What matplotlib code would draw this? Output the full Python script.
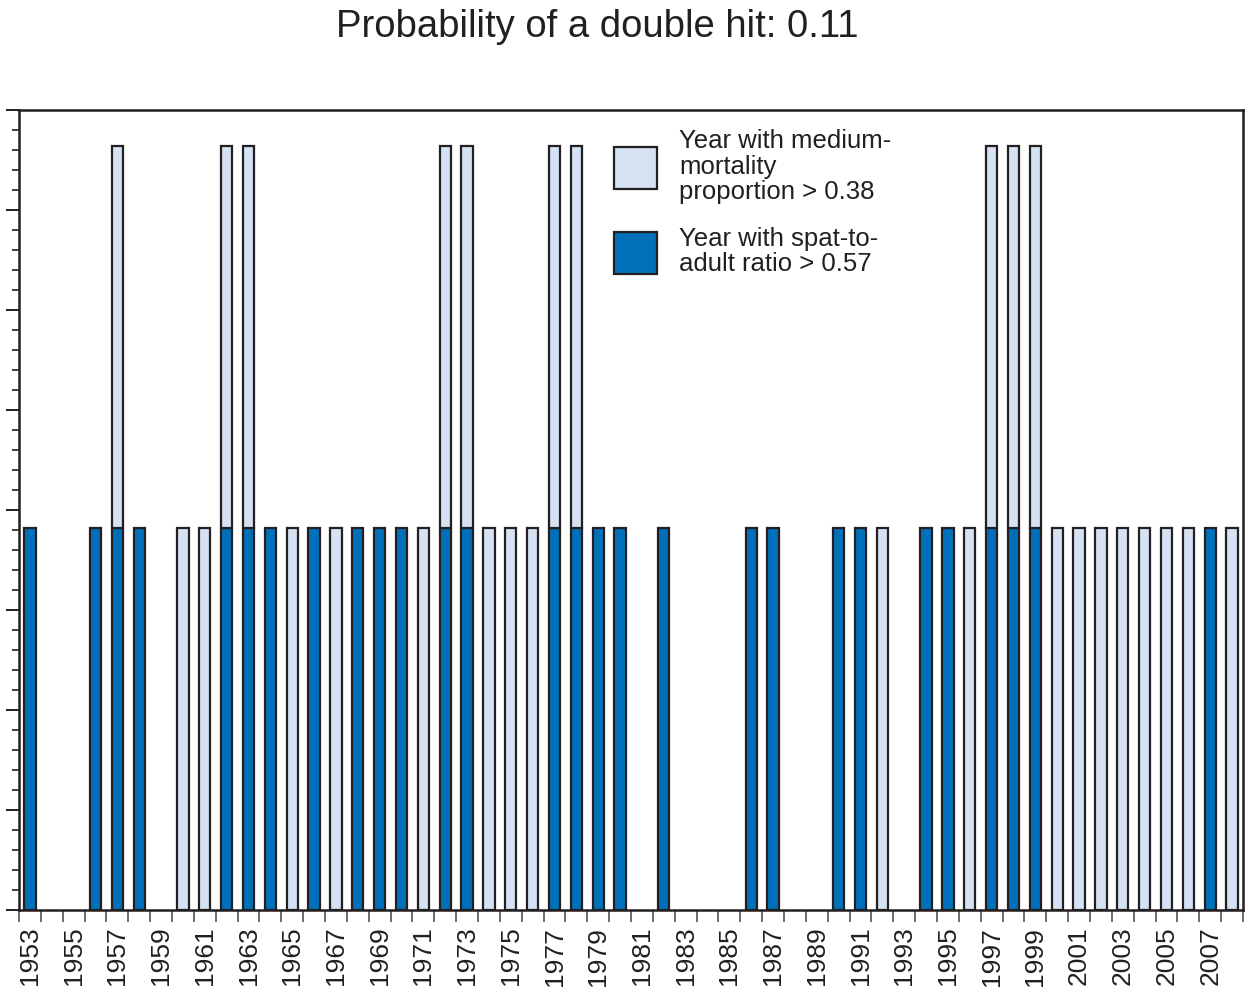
import matplotlib
matplotlib.use("Agg")
import matplotlib.pyplot as plt
from matplotlib.patches import Patch
from matplotlib.ticker import MultipleLocator, FixedLocator
import numpy as np

plt.rcParams['font.family'] = ['Liberation Sans', 'DejaVu Sans']

years = list(range(1953, 2009))

# 1 = year with spat-to-adult ratio > 0.57
spat_years = [1953, 1956, 1957, 1958, 1962, 1963, 1964, 1966, 1968, 1969,
              1970, 1972, 1973, 1977, 1978, 1979, 1980, 1982, 1986, 1987,
              1990, 1991, 1994, 1995, 1997, 1998, 1999, 2007]
# 1 = year with medium-mortality proportion > 0.38
mortality_years = [1957, 1960, 1961, 1962, 1963, 1965, 1967, 1971, 1972, 1973,
                   1974, 1975, 1976, 1977, 1978, 1992, 1996, 1997, 1998, 1999,
                   2000, 2001, 2002, 2003, 2004, 2005, 2006, 2008]

spat = np.array([1 if y in spat_years else 0 for y in years])
mortality = np.array([1 if y in mortality_years else 0 for y in years])

title = "Probability of a double hit: 0.11"
label_mortality = "Year with medium-\nmortality\nproportion > 0.38"
label_spat = "Year with spat-to-\nadult ratio > 0.57"

dark = "#0070BA"
light = "#D5E2F3"
edge = "#231F20"

fig = plt.figure(figsize=(12.5, 9.9), dpi=100)
ax = fig.add_axes([19/1250, 1 - 910/990, (1243 - 19)/1250, 800/990])

x = np.array(years)
w = 0.52
ax.bar(x[spat > 0], spat[spat > 0], width=w, color=dark,
       edgecolor=edge, linewidth=1.6, zorder=3)
ax.bar(x[mortality > 0], mortality[mortality > 0], width=w,
       bottom=spat[mortality > 0], color=light,
       edgecolor=edge, linewidth=1.6, zorder=3)

ax.set_xlim(years[0] - 0.5, years[-1] + 0.5)
ymax = 800 / 382
ax.set_ylim(0, ymax)

# y axis: unlabeled ticks, 8 major divisions with 5 minor steps each
ax.yaxis.set_major_locator(MultipleLocator(ymax / 8))
ax.yaxis.set_minor_locator(MultipleLocator(ymax / 40))
ax.tick_params(axis='y', which='major', length=9.5, width=1.4, color=edge,
               labelleft=False)
ax.tick_params(axis='y', which='minor', length=5, width=1.2, color=edge)

# x axis: labels at every other year, ticks at category boundaries
ax.xaxis.set_major_locator(FixedLocator(years[::2]))
ax.set_xticklabels([str(y) for y in years[::2]], rotation=90,
                   fontsize=19, color=edge)
ax.xaxis.set_minor_locator(FixedLocator(np.arange(years[0] - 0.5, years[-1] + 1)))
ax.tick_params(axis='x', which='major', length=0, pad=12)
ax.tick_params(axis='x', which='minor', length=8.5, width=1.4, color="#6d6d6d")

for s in ax.spines.values():
    s.set_linewidth(1.8)
    s.set_color(edge)

handles = [Patch(facecolor=light, edgecolor=edge, linewidth=1.6),
           Patch(facecolor=dark, edgecolor=edge, linewidth=1.6)]
leg = fig.legend(handles, [label_mortality, label_spat], loc='upper left',
                 bbox_to_anchor=(614/1250, 1 - 129/990), frameon=False,
                 fontsize=18.5, handlelength=1.68, handleheight=2.14,
                 handletextpad=0.86, labelspacing=0.88, borderpad=0,
                 borderaxespad=0, labelcolor=edge)
for t in leg.get_texts():
    t.set_linespacing(1.08)

fig.text(597/1250, 1 - 37/990, title, ha='center', va='baseline',
         fontsize=27.5, color=edge)

fig.savefig("out.png", dpi=100)
